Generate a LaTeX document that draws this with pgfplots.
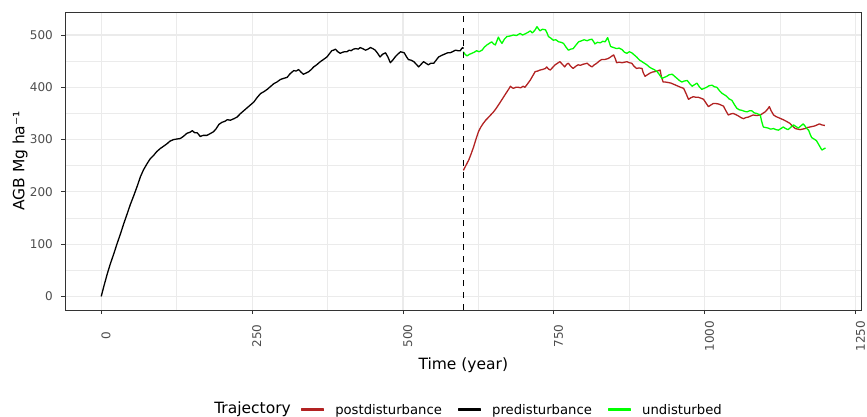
\documentclass[border=0pt]{standalone}
\usepackage{fontspec}
\setmainfont{DejaVu Sans}
\usepackage{pgfplots}
\pgfplotsset{compat=1.18}
\definecolor{gridc}{HTML}{EBEBEB}
\definecolor{framec}{HTML}{333333}
\definecolor{tickc}{HTML}{4D4D4D}
\definecolor{firebrick}{HTML}{B22222}
\definecolor{limeg}{HTML}{00FF00}
\begin{document}
\begin{tikzpicture}
\begin{axis}[
  scale only axis, width=796.7pt, height=298pt,
  xmin=-60, xmax=1260, ymin=-26, ymax=544,
  xtick={0,250,500,750,1000,1250},
  ytick={0,100,200,300,400,500},
  minor xtick={125,375,625,875,1125},
  minor ytick={50,150,250,350,450},
  grid=both,
  major grid style={draw=gridc, line width=1.1pt},
  minor grid style={draw=gridc, line width=0.55pt},
  axis line style={draw=framec, line width=0.8pt},
  tick align=outside, xtick pos=bottom, ytick pos=left,
  major tick length=4pt, minor tick length=0pt,
  tick style={draw=framec, line width=0.8pt},
  /pgf/number format/assume math mode=true,
  /pgf/number format/1000 sep={},
  tick label style={font=\fontsize{12}{14}\selectfont, text=tickc},
  xticklabel style={yshift=-22pt, rotate=90, anchor=north, inner sep=0pt},
  yticklabel style={anchor=east, inner sep=0pt, xshift=-8pt},
  xlabel={Time (year)},
  ylabel={AGB Mg ha⁻¹},
  label style={font=\fontsize{15.5}{18}\selectfont},
  xlabel style={at={(axis description cs:0.5,-0.186)}, anchor=center},
  ylabel style={at={(axis description cs:-0.0565,0.5)}, anchor=center},
  legend columns=3,
  legend style={at={(axis description cs:0.2962,-0.335)}, anchor=west,
    draw=none, fill=none, inner sep=0pt, outer sep=0pt,
    font=\fontsize{13.2}{15}\selectfont,
    column sep=9pt,
    /tikz/every even column/.append style={column sep=14pt}},
  legend cell align=left,
]
\addplot[firebrick, line width=1.3pt, line join=round,
  legend image code/.code={\fill[firebrick] (0pt,-0.7pt) rectangle (22pt,0.7pt);}] coordinates {
(600,241)(604,250)(609,261)(613,273)(617,286)(621,301)(625,315)(629,324)(633,331)(637,337)
(642,343)(646,348)(650,353)(654,359)(658,366)(662,373)(667,382)(672,391)(676,398)(678,402)
(681,399)(683,398)(687,400)(691,400)(695,399)(699,402)(702,400)(706,406)(711,414)(715,422)
(719,430)(723,431)(727,433)(731,434)(736,436)(738,439)(741,435)(744,433)(748,438)(752,443)
(756,446)(760,449)(764,444)(768,439)(771,444)(774,446)(778,440)(782,436)(786,440)(790,443)
(794,442)(798,444)(802,445)(805,446)(809,442)(813,439)(817,443)(821,446)(825,450)(829,453)
(834,453)(840,455)(844,458)(849,462)(852,454)(854,447)(858,448)(863,447)(867,448)(871,449)
(875,447)(879,446)(883,440)(887,436)(891,437)(896,436)(898,428)(901,421)(905,424)(909,427)
(913,429)(917,430)(921,431)(926,433)(928,421)(931,410)(935,410)(940,409)(944,408)(948,406)
(952,404)(956,402)(960,400)(965,398)(969,388)(973,377)(977,380)(981,382)(985,381)(989,381)
(994,379)(998,377)(1002,370)(1006,363)(1010,366)(1014,369)(1018,369)(1023,368)(1027,366)(1031,364)
(1035,355)(1039,347)(1043,349)(1047,350)(1051,348)(1056,345)(1060,342)(1064,340)(1068,342)(1072,343)
(1076,345)(1080,347)(1086,346)(1092,347)(1096,350)(1100,353)(1104,358)(1107,363)(1110,355)(1114,347)
(1118,344)(1122,342)(1126,340)(1130,338)(1135,335)(1141,331)(1145,326)(1150,321)(1154,320)(1158,319)
(1162,320)(1166,321)(1170,323)(1174,324)(1178,325)(1182,326)(1186,328)(1190,330)(1194,328)(1199,327)
};
\addlegendentry{postdisturbance}
\addplot[black, line width=1.3pt, line join=round,
  legend image code/.code={\fill[black] (0pt,-0.7pt) rectangle (22pt,0.7pt);}] coordinates {
(0,0)(5,22)(10,43)(15,62)(21,82)(26,100)(32,120)(37,138)(43,158)(48,175)
(54,193)(60,212)(65,229)(70,242)(76,254)(81,263)(87,270)(92,277)(98,283)(103,287)
(109,292)(114,297)(120,300)(125,301)(131,302)(136,306)(142,312)(147,314)(151,317)(155,313)
(159,313)(162,309)(164,306)(169,308)(175,308)(180,311)(186,315)(190,320)(195,329)(200,333)
(205,335)(209,338)(214,337)(220,340)(225,343)(231,350)(236,355)(242,361)(247,366)(253,372)
(258,380)(264,388)(270,392)(275,396)(280,401)(286,407)(291,410)(297,415)(302,417)(308,419)
(313,426)(319,432)(323,431)(327,434)(331,429)(335,425)(339,427)(344,430)(348,434)(352,439)
(357,443)(363,449)(368,453)(374,458)(378,464)(382,470)(385,471)(388,473)(392,468)(396,465)
(400,467)(403,468)(407,468)(411,471)(414,470)(418,473)(422,474)(426,473)(429,476)(433,474)
(438,471)(442,473)(446,476)(450,474)(454,471)(458,465)(462,458)(466,463)(471,466)(475,458)
(479,447)(483,452)(487,458)(491,463)(496,468)(499,467)(502,466)(506,458)(509,453)(513,452)
(518,449)(522,444)(526,439)(530,444)(534,449)(538,446)(542,443)(546,446)(551,446)(555,452)
(559,458)(564,461)(570,464)(574,466)(578,466)(582,468)(587,471)(591,470)(595,470)(597,474)
(599,476)(600,474)
};
\addlegendentry{predisturbance}
\addplot[limeg, line width=1.3pt, line join=round,
  legend image code/.code={\fill[limeg] (0pt,-0.7pt) rectangle (22pt,0.7pt);}] coordinates {
(600,468)(603,463)(606,460)(610,463)(614,465)(618,467)(622,470)(626,468)(631,471)(635,477)
(639,481)(643,484)(647,487)(650,483)(653,481)(656,490)(658,496)(661,489)(664,484)(668,492)
(672,497)(677,498)(683,500)(688,499)(694,503)(698,500)(702,502)(707,505)(711,508)(714,504)
(716,506)(719,510)(722,516)(725,511)(727,508)(731,511)(736,510)(739,503)(741,497)(745,494)
(749,490)(753,491)(758,487)(762,486)(766,484)(770,477)(774,471)(778,473)(782,474)(786,480)
(791,487)(796,489)(800,491)(805,489)(809,491)(813,492)(816,487)(818,483)(822,486)(827,485)
(831,488)(835,487)(839,495)(842,485)(844,478)(849,476)(854,474)(858,475)(863,472)(867,467)
(871,465)(875,468)(879,466)(883,462)(887,458)(892,452)(896,449)(900,446)(904,443)(908,439)
(912,436)(916,434)(921,430)(925,424)(929,417)(933,419)(937,421)(941,424)(946,425)(950,421)
(954,417)(958,413)(962,410)(966,412)(971,413)(975,407)(979,402)(983,405)(987,408)(991,401)
(995,396)(999,398)(1003,400)(1007,403)(1012,404)(1016,401)(1020,400)(1024,394)(1028,389)(1032,386)
(1036,383)(1040,378)(1045,375)(1049,367)(1053,360)(1057,357)(1061,356)(1066,354)(1070,353)(1074,355)
(1078,355)(1082,351)(1086,350)(1090,348)(1092,347)(1094,336)(1097,324)(1101,323)(1105,322)(1109,320)
(1114,321)(1118,319)(1122,318)(1126,321)(1130,324)(1134,321)(1138,319)(1142,323)(1147,328)(1151,325)
(1155,322)(1159,326)(1163,330)(1166,326)(1169,321)(1172,318)(1175,309)(1177,304)(1181,301)(1185,298)
(1189,290)(1194,280)(1197,282)(1200,284)
};
\addlegendentry{undisturbed}
\addplot[forget plot, black, line width=1.3pt, dash pattern=on 6.5pt off 5.5pt] coordinates {(600,-26)(600,544)};
\end{axis}
\path (current axis.south west) ++(226pt,-99pt) node[anchor=east, inner sep=0pt, font=\fontsize{15.5}{18}\selectfont] {Trajectory};
\pgfresetboundingbox
\path[use as bounding box] (current axis.south west) ++(-65pt,-106pt) rectangle ++(867pt,416pt);
\end{tikzpicture}
\end{document}
